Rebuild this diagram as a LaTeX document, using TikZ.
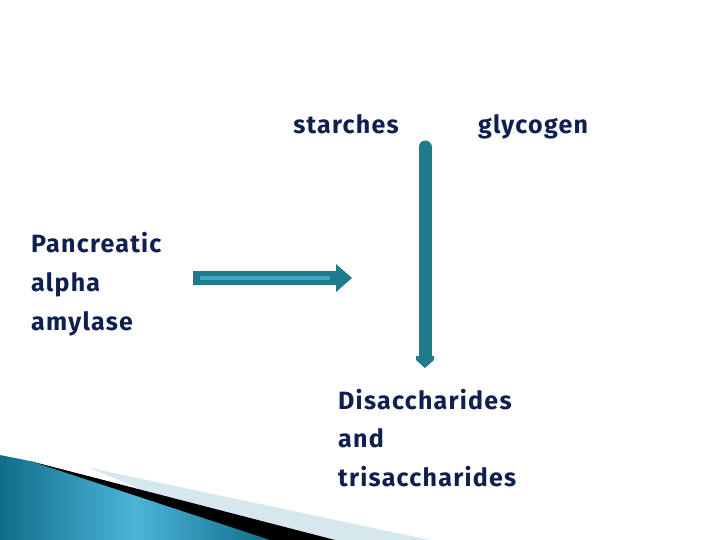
\documentclass[tikz,border=0pt]{standalone}
\usepackage{fontspec}
\setmainfont{Fira Sans}[LetterSpace=5]
\usetikzlibrary{arrows.meta,calc}
\definecolor{navy}{HTML}{0F1F4F}
\definecolor{teal1}{HTML}{1F7A8C}
\definecolor{teal2}{HTML}{3BA8C4}
\definecolor{tealdark}{HTML}{0E6E8A}
\definecolor{tealmid}{HTML}{4DB5D8}
\definecolor{paleblue}{HTML}{D6E8EE}
\tikzset{
  lbl/.style={text=navy, font=\fontsize{25}{39}\selectfont\bfseries, inner sep=0pt},
  multi/.style={lbl, align=left},
}
\begin{document}
\begin{tikzpicture}[x=1pt,y=-1pt]
\useasboundingbox (0,0) rectangle (720,540);
\fill[white] (0,0) rectangle (720,540);
% bottom-left decoration
\fill[paleblue] (90,468) -- (430,540) -- (260,540) -- cycle;
\fill[black] (30,461) -- (335,540) -- (255,540) -- cycle;
\shade[left color=tealdark, right color=tealdark, middle color=tealmid] (0,455) -- (30,461) -- (270,540) -- (0,540) -- cycle;
% texts
\node[lbl, anchor=base] (starch) at (346,134) {starches};
\node[lbl, anchor=base] (glyc) at (533,134) {glycogen};
\node[multi, anchor=north west] (panc) at (31,232) {Pancreatic\\alpha\\amylase};
\node[multi, anchor=north west, font=\fontsize{25}{38.5}\selectfont\bfseries] (disac) at (338,389) {Disaccharides\\and\\trisaccharides};
% anchors for arrows
\coordinate (hs) at (193,278);
\coordinate (he) at (352,278);
\coordinate (vs) at (425,147);
\coordinate (ve) at (425,368);
% horizontal arrow
\fill[teal1] (193,271) -- (336,271) -- (336,264) -- (352,278) -- (336,292) -- (336,285) -- (193,285) -- cycle;
\draw[teal2, line width=4pt] (200,278) -- (330,278);
% vertical arrow
\draw[teal1, line width=13pt, line cap=round] (vs) -- ($(ve)+(0,-10)$);
\fill[teal1] (416,356) -- (434,356) -- (434,360) -- (425,368) -- (416,360) -- cycle;
\end{tikzpicture}
\end{document}
